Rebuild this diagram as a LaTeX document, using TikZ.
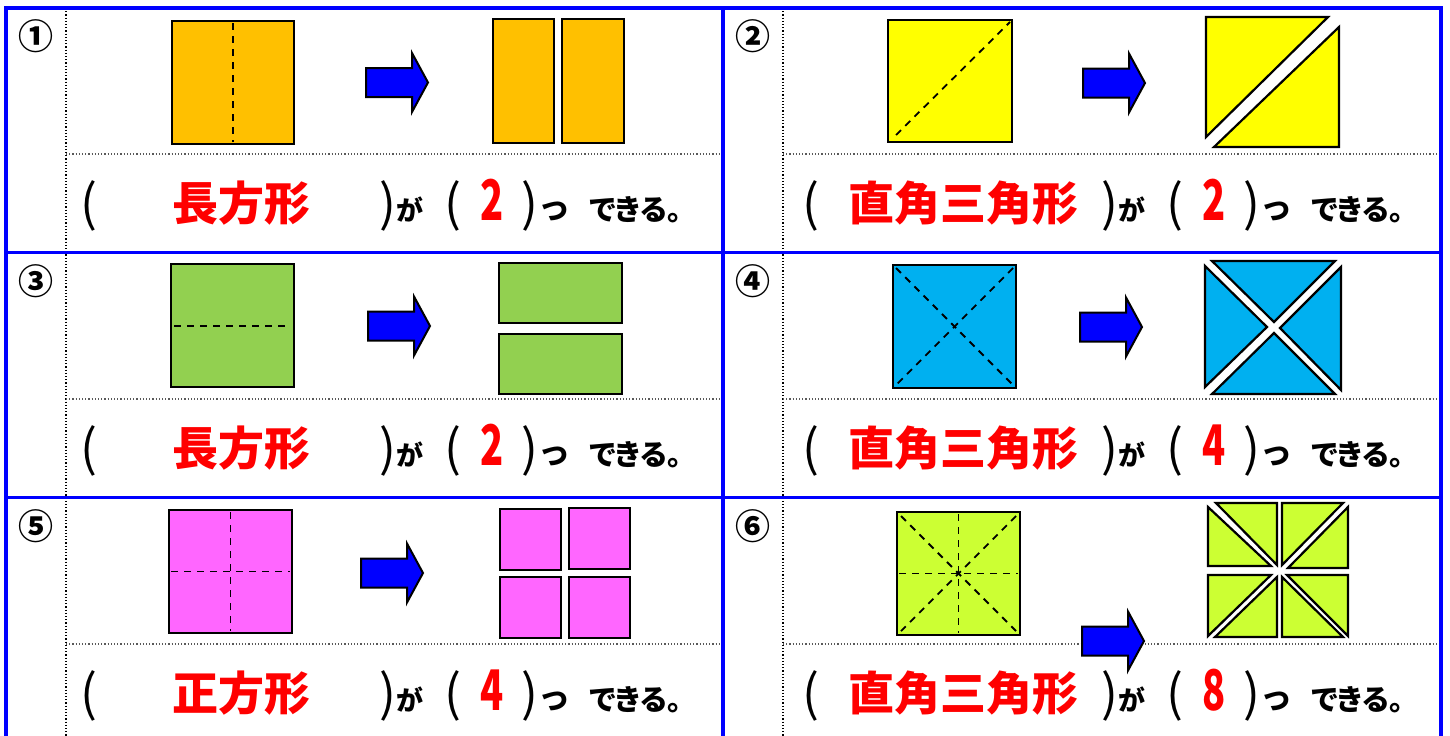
\documentclass[tikz,border=0pt]{standalone}
\usepackage{fontspec}
\usepackage{graphicx}
\usepackage{xcolor}
\usepackage{tikz}
\newfontfamily\jpfont{Noto Sans CJK JP}
\newfontfamily\jpkana{Noto Sans CJK JP}[RawFeature=+palt]

\definecolor{paperorange}{HTML}{FFC000}
\definecolor{paperyellow}{HTML}{FFFF00}
\definecolor{papergreen}{HTML}{92D050}
\definecolor{papercyan}{HTML}{00B0F0}
\definecolor{paperpink}{HTML}{FF66FF}
\definecolor{paperlime}{HTML}{CCFF33}

\tikzset{
  paper/.style={draw=black, line width=1.1pt, line join=miter},
  fold/.style={dash pattern=on 3.5pt off 3pt, line width=0.9pt},
  frameline/.style={draw=blue, line width=1.8pt},
  guide/.style={densely dotted, line width=0.6pt},
  numlabel/.style={font=\jpfont\bfseries\fontsize{17.5}{17.5}\selectfont, inner sep=0},
  paren/.style={font=\jpfont\fontsize{25}{25}\selectfont, anchor=base, inner sep=0},
  answer/.style={font=\jpfont\bfseries\fontsize{23}{23}\selectfont, text=red, anchor=base, inner sep=0},
  count/.style={font=\jpfont\bfseries\fontsize{28}{28}\selectfont, text=red, anchor=base, inner sep=0},
  kana/.style={font=\jpkana\bfseries\fontsize{13.5}{13.5}\selectfont, anchor=base, inner sep=0},
  bluearrow/.pic={\filldraw[fill=blue, draw=black, line width=1pt]
    (0,-14.5) -- (46,-14.5) -- (46,-29.5) -- (62,0) -- (46,29.5) -- (46,14.5) -- (0,14.5) -- cycle;}
}

\begin{document}
\begin{tikzpicture}[x=0.5pt, y=-0.5pt]
    \useasboundingbox (0,0) rectangle (1450,735);
    \fill[white] (0,0) rectangle (1450,735);

    % Grid: dotted guides, then blue frame
    \draw[guide] (66,8) -- (66,740);
    \draw[guide] (783,8) -- (783,740);
    \foreach \gy in {154,399,644} {
        \draw[guide, black!65] (66,\gy) -- (722,\gy);
        \draw[guide, black!65] (783,\gy) -- (1441,\gy);
    }
    \draw[frameline] (6,740) -- (6,8) -- (1441,8) -- (1441,740);
    \draw[frameline] (723,8) -- (723,740);
    \draw[frameline] (6,252.5) -- (1441,252.5);
    \draw[frameline] (6,497.5) -- (1441,497.5);

    % Labels and answer rows
    \foreach \i/\nlab/\cx/\tx/\ry/\word/\cnt in {1/①/66/0/0/長方形/2, 2/②/783/722/0/直角三角形/2,
        3/③/66/0/245/長方形/2, 4/④/783/722/245/直角三角形/4,
        5/⑤/66/0/490/正方形/4, 6/⑥/783/722/490/直角三角形/8} {
        \node[numlabel] (num\i) at (\cx-30,36+\ry) {\nlab};
        \begin{scope}[shift={(\tx,\ry)}]
            \node[paren] (lpa\i) at (89,221) {(};
            \node[answer] (word\i) at (241,220) {\word};
            \node[paren] (rpa\i) at (388,221) {)};
            \node[kana] (ga\i) at (410,220) {が};
            \node[paren] (lpb\i) at (453,221) {(};
            \node[count] (cnt\i) at (492.5,220) {\scalebox{0.68}[1]{\cnt}};
            \node[paren] (rpb\i) at (530,221) {)};
            \node[kana] (tsu\i) at (555,220) {つ};
            \node[kana, font=\jpkana\bfseries\fontsize{14.5}{14.5}\selectfont, anchor=base west] (dekiru\i) at (589,220) {できる。};
        \end{scope}
    }

    % 1: orange square, one fold
    \filldraw[paper, fill=paperorange] (172,21) rectangle (294,144);
    \draw[fold] (233,23) -- (233,142);
    \pic at (366,82.5) {bluearrow};
    \filldraw[paper, fill=paperorange] (493,19) rectangle (554,143);
    \filldraw[paper, fill=paperorange] (562,19) rectangle (624,143);

    % 2: yellow square, diagonal fold
    \filldraw[paper, fill=paperyellow] (888,20) rectangle (1012,142);
    \draw[fold] (896,135) -- (1010,22);
    \pic at (1083,83) {bluearrow};
    \filldraw[paper, fill=paperyellow] (1206,17) -- (1328,17) -- (1206,137) -- cycle;
    \filldraw[paper, fill=paperyellow] (1339,27) -- (1339,147) -- (1214,147) -- cycle;

    % 3: green square, horizontal fold
    \filldraw[paper, fill=papergreen] (171,264) rectangle (294,387);
    \draw[fold] (174,326) -- (291,326);
    \pic at (368,326) {bluearrow};
    \filldraw[paper, fill=papergreen] (499,263) rectangle (622,323);
    \filldraw[paper, fill=papergreen] (499,334) rectangle (622,394);

    % 4: cyan square, both diagonals
    \filldraw[paper, fill=papercyan] (893,265) rectangle (1016,388);
    \draw[fold] (896,268) -- (1013,385);
    \draw[fold] (1013,268) -- (896,385);
    \pic at (1080,327) {bluearrow};
    \filldraw[paper, fill=papercyan] (1212,261) -- (1335,261) -- (1274,322) -- cycle;
    \filldraw[paper, fill=papercyan] (1205,266) -- (1205,387) -- (1267,327) -- cycle;
    \filldraw[paper, fill=papercyan] (1341,267) -- (1341,390) -- (1280,328) -- cycle;
    \filldraw[paper, fill=papercyan] (1212,394) -- (1335,394) -- (1274,333) -- cycle;

    % 5: pink square, cross folds
    \filldraw[paper, fill=paperpink] (169,510) rectangle (292,633);
    \draw[fold] (230.5,512) -- (230.5,631);
    \draw[fold] (171,571.5) -- (290,571.5);
    \pic at (361,573) {bluearrow};
    \filldraw[paper, fill=paperpink] (500,509) rectangle (561,570);
    \filldraw[paper, fill=paperpink] (569,508) rectangle (630,569);
    \filldraw[paper, fill=paperpink] (500,577) rectangle (561,638);
    \filldraw[paper, fill=paperpink] (569,577) rectangle (630,638);

    % 6: lime square, eight folds
    \filldraw[paper, fill=paperlime] (897,512) rectangle (1020,635);
    \draw[fold] (958.5,514) -- (958.5,633);
    \draw[fold] (899,573.5) -- (1018,573.5);
    \draw[fold] (901,516) -- (1016,631);
    \draw[fold] (1016,516) -- (901,631);
    \filldraw[paper, fill=paperlime] (1216,503) -- (1277,503) -- (1277,565) -- cycle;
    \filldraw[paper, fill=paperlime] (1208,507) -- (1208,566) -- (1271,566) -- cycle;
    \filldraw[paper, fill=paperlime] (1282,503) -- (1343,503) -- (1282,565) -- cycle;
    \filldraw[paper, fill=paperlime] (1348,507) -- (1348,568) -- (1288,568) -- cycle;
    \filldraw[paper, fill=paperlime] (1208,575) -- (1271,575) -- (1208,636) -- cycle;
    \filldraw[paper, fill=paperlime] (1277,577) -- (1277,637) -- (1215,637) -- cycle;
    \filldraw[paper, fill=paperlime] (1282,577) -- (1282,637) -- (1343,637) -- cycle;
    \filldraw[paper, fill=paperlime] (1287,575) -- (1348,575) -- (1348,636) -- cycle;
    \pic at (1082,641) {bluearrow};
\end{tikzpicture}
\end{document}
